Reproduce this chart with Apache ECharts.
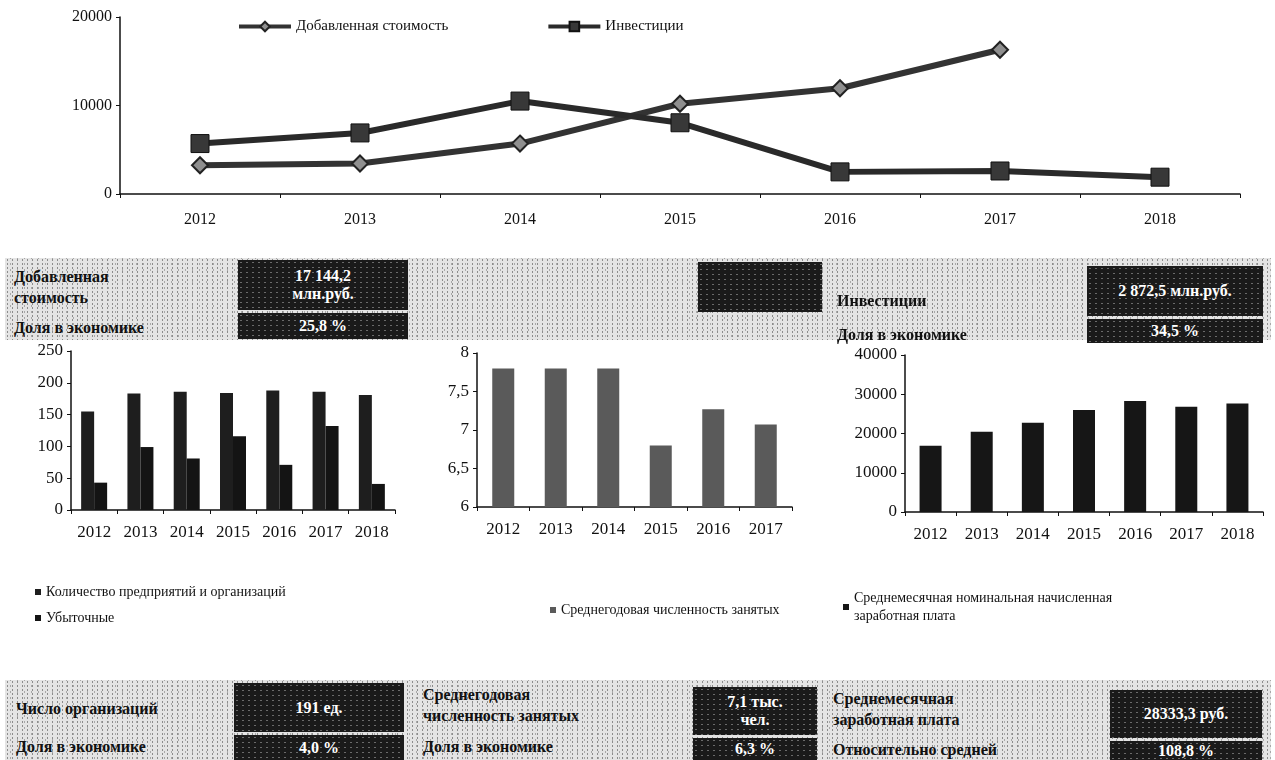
<!DOCTYPE html>
<html>
<head>
<meta charset="utf-8">
<script src="https://cdn.jsdelivr.net/npm/echarts@6/dist/echarts.min.js"></script>
<style>
  html, body { margin: 0; padding: 0; background: #fff; }
  #wrap { position: relative; width: 1275px; height: 760px; overflow: hidden; font-family: "Liberation Serif", "DejaVu Serif", serif; }
  #chart { position: absolute; left: 0; top: 0; width: 1275px; height: 760px; }
  /* серый "зернистый" фон плашек */
  .band { position: absolute; background-color: #e4e4e4;
          background-image: radial-gradient(circle, #8c8c8c 0.7px, transparent 1.1px), radial-gradient(circle, #a8a8a8 0.7px, transparent 1.1px);
          background-size: 5px 4px, 7px 6px; background-position: 0 0, 2px 3px; }
  .dark { position: absolute; background-color: #1a1a1a;
          background-image: radial-gradient(circle, #6a6a6a 0.6px, transparent 1px);
          background-size: 6px 5px;
          color: #fff; font-weight: bold; font-size: 16px; text-align: center;
          display: flex; align-items: center; justify-content: center; line-height: 18px; }
  .lbl { position: absolute; font-weight: bold; font-size: 16px; color: #111; line-height: 21px; }
</style>
</head>
<body>
<div id="wrap">
  <div id="chart"></div>

  <!-- верхняя плашка -->
  <div class="band" style="left:5px;top:258px;width:1266px;height:82px"></div>
  <div class="lbl" style="left:14px;top:266px">Добавленная<br>стоимость</div>
  <div class="lbl" style="left:14px;top:317px">Доля в экономике</div>
  <div class="dark" style="left:238px;top:260px;width:170px;height:50px">17 144,2<br>млн.руб.</div>
  <div class="dark" style="left:238px;top:313px;width:170px;height:26px">25,8 %</div>
  <div class="dark" style="left:698px;top:262px;width:124px;height:50px"></div>
  <div class="lbl" style="left:837px;top:290px">Инвестиции</div>
  <div class="lbl" style="left:837px;top:324px">Доля в экономике</div>
  <div class="dark" style="left:1087px;top:266px;width:176px;height:50px">2 872,5 млн.руб.</div>
  <div class="dark" style="left:1087px;top:319px;width:176px;height:24px">34,5 %</div>

  <!-- нижняя плашка -->
  <div class="band" style="left:5px;top:680px;width:1266px;height:80px"></div>
  <div class="lbl" style="left:16px;top:698px">Число организаций</div>
  <div class="lbl" style="left:16px;top:736px">Доля в экономике</div>
  <div class="dark" style="left:234px;top:683px;width:170px;height:49px">191 ед.</div>
  <div class="dark" style="left:234px;top:735px;width:170px;height:25px">4,0 %</div>
  <div class="lbl" style="left:423px;top:684px">Среднегодовая<br>численность занятых</div>
  <div class="lbl" style="left:423px;top:736px">Доля в экономике</div>
  <div class="dark" style="left:693px;top:687px;width:124px;height:48px">7,1 тыс.<br>чел.</div>
  <div class="dark" style="left:693px;top:738px;width:124px;height:22px">6,3 %</div>
  <div class="lbl" style="left:833px;top:688px">Среднемесячная<br>заработная плата</div>
  <div class="lbl" style="left:833px;top:739px">Относительно средней</div>
  <div class="dark" style="left:1110px;top:690px;width:152px;height:48px">28333,3 руб.</div>
  <div class="dark" style="left:1110px;top:741px;width:152px;height:19px">108,8 %</div>
</div>
<script>
const years = ['2012', '2013', '2014', '2015', '2016', '2017', '2018']
const addedValue = [3250, 3450, 5700, 10200, 11950, 16300, null]
const investments = [5700, 6900, 10500, 8050, 2500, 2600, 1900]
const orgCount = [155, 183, 186, 184, 188, 186, 181]
const unprofitable = [43, 99, 81, 116, 71, 132, 41]
const employedYears = ['2012', '2013', '2014', '2015', '2016', '2017']
const employed = [7.8, 7.8, 7.8, 6.8, 7.27, 7.07]
const salary = [16850, 20430, 22720, 25960, 28255, 26810, 27660]

const font = 'Liberation Serif'
const axisLine = { show: true, lineStyle: { color: '#111', width: 1.5 } }

function catAxis(idx, data, size, margin) {
  return {
    type: 'category', gridIndex: idx, data: data,
    axisLine: axisLine,
    axisTick: { show: true, length: 4, lineStyle: { color: '#111' } },
    axisLabel: { color: '#111', fontFamily: font, fontSize: size, margin: margin }
  }
}
function valAxis(idx, min, max, interval, size, fmt) {
  return {
    type: 'value', gridIndex: idx, min: min, max: max, interval: interval,
    axisLine: axisLine,
    axisTick: { show: true, length: 4, lineStyle: { color: '#111' } },
    splitLine: { show: false },
    // без разделителя тысяч, десятичная запятая
    axisLabel: { color: '#111', fontFamily: font, fontSize: size, margin: 8, formatter: fmt || (v => String(v).replace('.', ',')) }
  }
}

const chart = echarts.init(document.getElementById('chart'))
chart.setOption({
  animation: false,
  textStyle: { fontFamily: font },
  legend: [
    {
      left: 232, top: 14, itemWidth: 52, itemHeight: 12, itemGap: 98,
      lineStyle: { width: 4 },
      textStyle: { fontFamily: font, fontSize: 15, color: '#111' },
      data: ['Добавленная стоимость', 'Инвестиции']
    },
    {
      left: 30, top: 580, orient: 'vertical', itemWidth: 6, itemHeight: 6, itemGap: 12, icon: 'rect',
      textStyle: { fontFamily: font, fontSize: 14, color: '#111' },
      data: ['Количество предприятий и организаций', 'Убыточные']
    },
    {
      left: 545, top: 598, itemWidth: 6, itemHeight: 6, icon: 'rect',
      textStyle: { fontFamily: font, fontSize: 14, color: '#111' },
      data: ['Среднегодовая численность занятых']
    },
    {
      left: 838, top: 584, itemWidth: 6, itemHeight: 6, icon: 'rect',
      textStyle: { fontFamily: font, fontSize: 14, color: '#111', lineHeight: 18 },
      data: ['Среднемесячная номинальная начисленная\nзаработная плата']
    }
  ],
  grid: [
    { left: 120, top: 17, width: 1120, height: 177 },
    { left: 71, top: 351, width: 324, height: 159 },
    { left: 477, top: 353, width: 315, height: 154 },
    { left: 905, top: 355, width: 358, height: 157 }
  ],
  xAxis: [
    catAxis(0, years, 16, 18),
    catAxis(1, years, 17, 14),
    catAxis(2, employedYears, 17, 14),
    catAxis(3, years, 17, 14)
  ],
  yAxis: [
    valAxis(0, 0, 20000, 10000, 16),
    valAxis(1, 0, 250, 50, 17),
    valAxis(2, 6, 8, 0.5, 17),
    valAxis(3, 0, 40000, 10000, 17)
  ],
  series: [
    {
      name: 'Добавленная стоимость', type: 'line', xAxisIndex: 0, yAxisIndex: 0,
      data: addedValue, symbol: 'diamond', symbolSize: 16,
      lineStyle: { color: '#333', width: 6 },
      itemStyle: { color: '#8f8f8f', borderColor: '#222', borderWidth: 2 }
    },
    {
      name: 'Инвестиции', type: 'line', xAxisIndex: 0, yAxisIndex: 0,
      data: investments, symbol: 'rect', symbolSize: 18,
      lineStyle: { color: '#2a2a2a', width: 6 },
      itemStyle: { color: '#383838', borderColor: '#111', borderWidth: 1 }
    },
    {
      name: 'Количество предприятий и организаций', type: 'bar', xAxisIndex: 1, yAxisIndex: 1,
      data: orgCount, barWidth: 13, barGap: '0%', itemStyle: { color: '#1e1e1e' }
    },
    {
      name: 'Убыточные', type: 'bar', xAxisIndex: 1, yAxisIndex: 1,
      data: unprofitable, barWidth: 13, barGap: '0%', itemStyle: { color: '#141414' }
    },
    {
      name: 'Среднегодовая численность занятых', type: 'bar', xAxisIndex: 2, yAxisIndex: 2,
      data: employed, barWidth: 22, itemStyle: { color: '#5a5a5a' }
    },
    {
      name: 'Среднемесячная номинальная начисленная\nзаработная плата', type: 'bar', xAxisIndex: 3, yAxisIndex: 3,
      data: salary, barWidth: 22, itemStyle: { color: '#161616' }
    }
  ]
})
window.addEventListener('resize', () => chart.resize())
</script>
</body>
</html>
